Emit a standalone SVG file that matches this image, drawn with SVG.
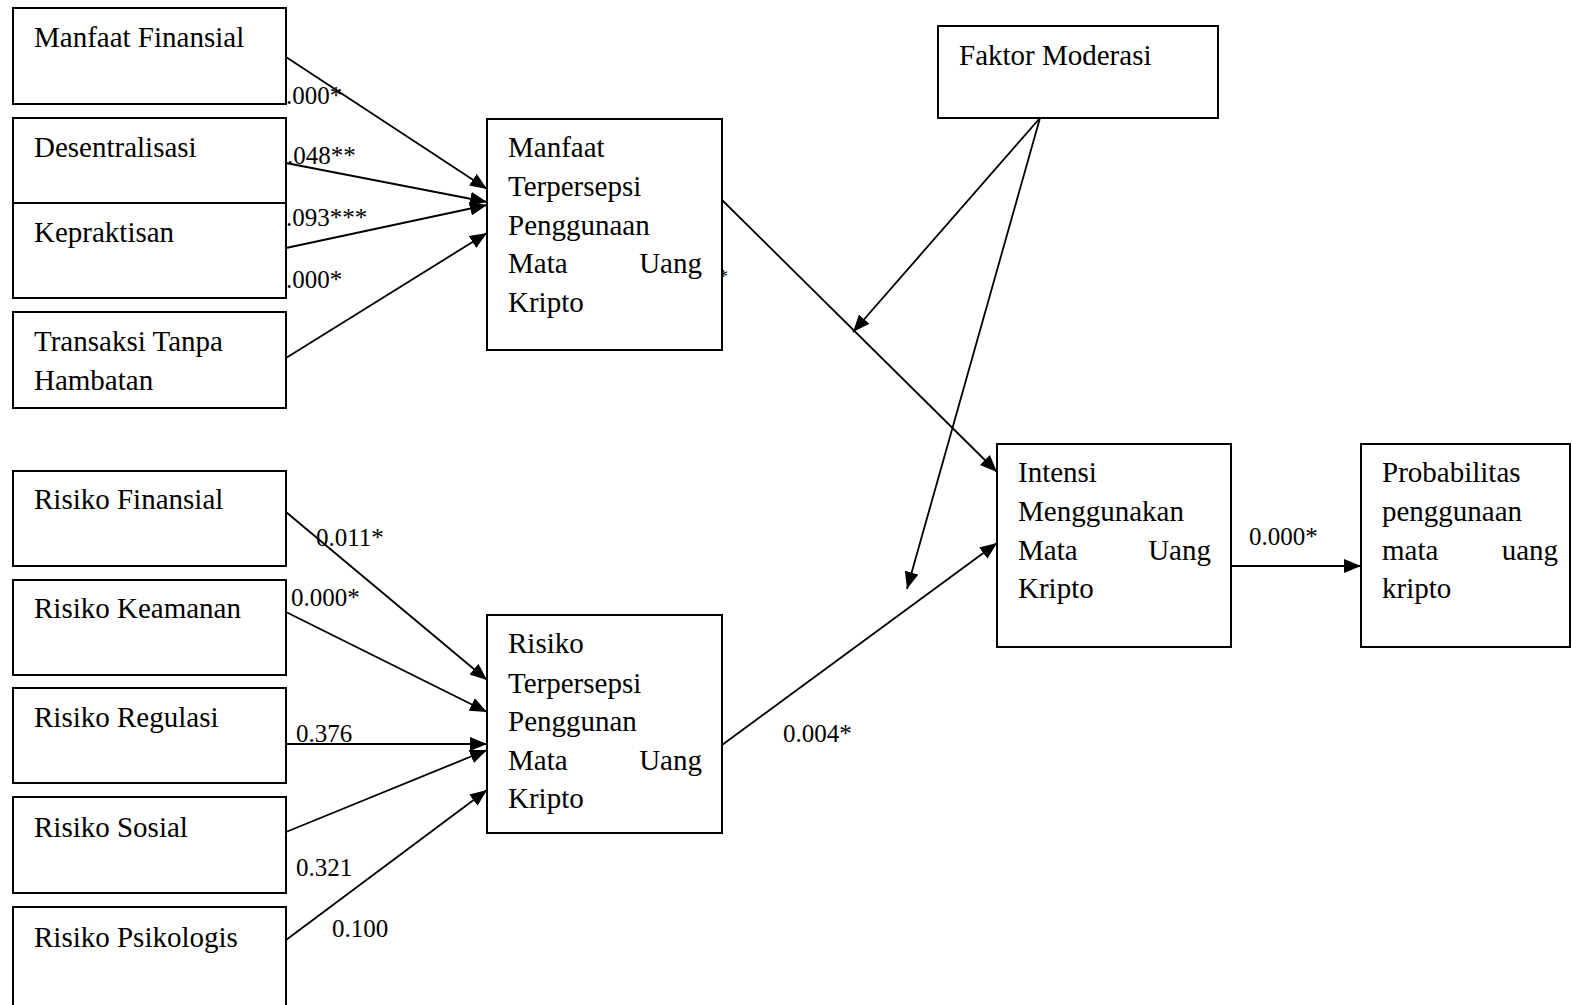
<svg xmlns="http://www.w3.org/2000/svg" width="1572" height="1005" viewBox="0 0 1572 1005">
<style>
rect{fill:#fff;stroke:#000;stroke-width:2}
text{font-family:"Liberation Serif","Times New Roman",serif;fill:#000}
.n{font-size:29px}
.l{font-size:25px}
.e{text-anchor:end}
line{stroke:#000;stroke-width:1.8}
</style>
<defs>
<marker id="a" markerUnits="userSpaceOnUse" markerWidth="18" markerHeight="14" refX="17" refY="7" orient="auto">
<path d="M0,0 L17,7 L0,14 Z" fill="#000"/>
</marker>
</defs>
<rect x="0" y="0" width="1572" height="1005" style="stroke:none"/>
<text x="719" y="283" style="font-size:18px">*</text>
<g id="connectors">
<line x1="286" y1="57" x2="487" y2="189" marker-end="url(#a)"/>
<line x1="286" y1="163" x2="487" y2="202" marker-end="url(#a)"/>
<line x1="286" y1="248" x2="487" y2="205" marker-end="url(#a)"/>
<line x1="286" y1="358" x2="487" y2="233" marker-end="url(#a)"/>
<line x1="286" y1="512" x2="487" y2="680" marker-end="url(#a)"/>
<line x1="286" y1="612" x2="487" y2="712" marker-end="url(#a)"/>
<line x1="286" y1="744" x2="487" y2="744" marker-end="url(#a)"/>
<line x1="286" y1="832" x2="487" y2="750" marker-end="url(#a)"/>
<line x1="286" y1="940" x2="487" y2="790" marker-end="url(#a)"/>
<line x1="722" y1="200" x2="997" y2="472" marker-end="url(#a)"/>
<line x1="722" y1="745" x2="997" y2="543" marker-end="url(#a)"/>
<line x1="1040" y1="118" x2="853" y2="332" marker-end="url(#a)"/>
<line x1="1040" y1="118" x2="907" y2="589" marker-end="url(#a)"/>
<line x1="1231" y1="566" x2="1361" y2="566" marker-end="url(#a)"/>
</g>
<g id="labels" class="l">
<text x="286" y="104">.000*</text>
<text x="287" y="164">.048**</text>
<text x="286" y="226">.093***</text>
<text x="286" y="288">.000*</text>
<text x="316" y="546">0.011*</text>
<text x="291" y="606">0.000*</text>
<text x="296" y="742">0.376</text>
<text x="296" y="876">0.321</text>
<text x="332" y="937">0.100</text>
<text x="783" y="742">0.004*</text>
<text x="1249" y="545">0.000*</text>
</g>
<g id="n-manfaat-finansial"><rect x="13" y="8" width="273" height="96"/><text class="n" x="34" y="47">Manfaat Finansial</text></g>
<g id="n-desentralisasi"><rect x="13" y="118" width="273" height="85"/><text class="n" x="34" y="157">Desentralisasi</text></g>
<g id="n-kepraktisan"><rect x="13" y="203" width="273" height="95"/><text class="n" x="34" y="242">Kepraktisan</text></g>
<g id="n-transaksi"><rect x="13" y="312" width="273" height="96"/><text class="n" x="34" y="351">Transaksi Tanpa</text><text class="n" x="34" y="390">Hambatan</text></g>
<g id="n-manfaat-terpersepsi"><rect x="487" y="119" width="235" height="231"/>
<text class="n" x="508" y="157">Manfaat</text>
<text class="n" x="508" y="196">Terpersepsi</text>
<text class="n" x="508" y="235">Penggunaan</text>
<text class="n" x="508" y="273">Mata</text><text class="n e" x="702" y="273">Uang</text>
<text class="n" x="508" y="312">Kripto</text></g>
<g id="n-faktor-moderasi"><rect x="938" y="26" width="280" height="92"/><text class="n" x="959" y="65">Faktor Moderasi</text></g>
<g id="n-intensi"><rect x="997" y="444" width="234" height="203"/>
<text class="n" x="1018" y="482">Intensi</text>
<text class="n" x="1018" y="521">Menggunakan</text>
<text class="n" x="1018" y="560">Mata</text><text class="n e" x="1211" y="560">Uang</text>
<text class="n" x="1018" y="598">Kripto</text></g>
<g id="n-probabilitas"><rect x="1361" y="444" width="209" height="203"/>
<text class="n" x="1382" y="482">Probabilitas</text>
<text class="n" x="1382" y="521">penggunaan</text>
<text class="n" x="1382" y="560">mata</text><text class="n e" x="1558" y="560">uang</text>
<text class="n" x="1382" y="598">kripto</text></g>
<g id="n-risiko-finansial"><rect x="13" y="471" width="273" height="95"/><text class="n" x="34" y="509">Risiko Finansial</text></g>
<g id="n-risiko-keamanan"><rect x="13" y="580" width="273" height="95"/><text class="n" x="34" y="618">Risiko Keamanan</text></g>
<g id="n-risiko-regulasi"><rect x="13" y="688" width="273" height="95"/><text class="n" x="34" y="727">Risiko Regulasi</text></g>
<g id="n-risiko-sosial"><rect x="13" y="797" width="273" height="96"/><text class="n" x="34" y="837">Risiko Sosial</text></g>
<g id="n-risiko-psikologis"><rect x="13" y="907" width="273" height="100"/><text class="n" x="34" y="947">Risiko Psikologis</text></g>
<g id="n-risiko-terpersepsi"><rect x="487" y="615" width="235" height="218"/>
<text class="n" x="508" y="653">Risiko</text>
<text class="n" x="508" y="693">Terpersepsi</text>
<text class="n" x="508" y="731">Penggunan</text>
<text class="n" x="508" y="770">Mata</text><text class="n e" x="702" y="770">Uang</text>
<text class="n" x="508" y="808">Kripto</text></g>
</svg>
